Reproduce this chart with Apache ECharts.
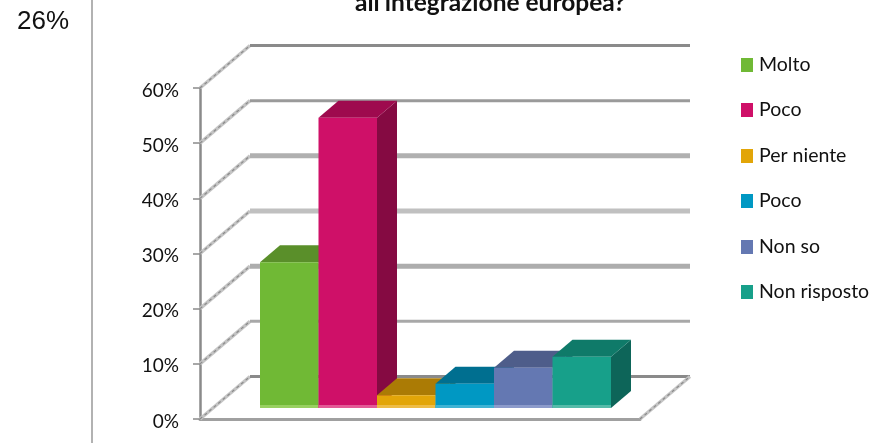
<!DOCTYPE html>
<html><head><meta charset="utf-8">
<style>html,body{margin:0;padding:0;background:#fff}#c{width:872px;height:447px}</style>
<script src="https://cdn.jsdelivr.net/npm/echarts@6/dist/echarts.min.js"></script>
</head><body><div id="c"></div>
<script>
const categories = ['Molto','Poco','Per niente','Poco','Non so','Non risposto'];
const values = [26.4, 52.6, 2.3, 4.4, 7.3, 9.3];
const yTicks = [0,10,20,30,40,50,60];
const titleText = "all'integrazione europea?";
const sideNote = '26%';

const front = ['#70b935','#cf1068','#e2a508','#0098c3','#6478b2','#17a08a'];
const topFace = ['#5a8f2a','#9e0a4e','#ab7b05','#006f90','#4e5d8a','#0f7a69'];
const sideFace = ['#4c7a24','#850a42','#8f6704','#005d79','#414e74','#0d6559'];
const strip = ['#98d060','#e35a96','#eebc46','#3fb3d4','#8c9bcb','#55bba9'];
const wallColor = ['#8a8a8a','#a8a8a8','#adadad','#c0c0c0','#b0b0b0','#9a9a9a','#8a8a8a'];
const wallWidth = [3,3,5,5,5,3,3];
const FONT = 'Lato';
const DX = 20, DY = 17, WX = 50, WY = 42.5, WALL_RIGHT = 690;

const chart = echarts.init(document.getElementById('c'), null, {renderer:'canvas'});

function diagonal(a, b){
  return [
    {type:'polyline',shape:{points:[a,b]},style:{stroke:'#c4c4c4',lineWidth:3.5,fill:null}},
    {type:'polyline',shape:{points:[a,b]},style:{stroke:'#8a8a8a',lineWidth:1.2,lineDash:[3,3],fill:null}}
  ];
}

function wallItem(params, api){
  const v = api.value(0);
  const i = params.dataIndex;
  const p = api.coord([0, v]);
  const back = [p[0]+WX, p[1]-WY];
  const children = diagonal(p, back).concat([
    {type:'line',shape:{x1:back[0],y1:back[1],x2:WALL_RIGHT,y2:back[1]},
     style:{stroke:wallColor[i],lineWidth:wallWidth[i]}}
  ]);
  if (v === 0) {
    const r = api.coord([1, 0]);
    diagonal(r, [r[0]+WX, r[1]-WY]).forEach(c=>children.push(c));
  }
  return {type:'group',children};
}

function barItem(i){
  return function(params, api){
    const top = api.coord([i, api.value(1)]);
    const base = api.coord([i, 0]);
    const w = api.size([1,0])[0];
    const x0 = top[0]-w/2, x1 = top[0]+w/2, yt = top[1], yb = base[1];
    return {type:'group',children:[
      {type:'polygon',shape:{points:[[x1,yt],[x1+DX,yt-DY],[x1+DX,yb-DY],[x1,yb]]},style:{fill:sideFace[i]}},
      {type:'polygon',shape:{points:[[x0,yt],[x0+DX,yt-DY],[x1+DX,yt-DY],[x1,yt]]},style:{fill:topFace[i]}},
      {type:'rect',shape:{x:x0,y:yt,width:w,height:yb-yt},style:{fill:front[i]}},
      {type:'rect',shape:{x:x0,y:yb-3,width:w,height:3},style:{fill:strip[i]}}
    ]};
  };
}

const legendTops = [55,100,146,191,237,282];

chart.setOption({
  animation:false,
  backgroundColor:'#fff',
  title:{text:titleText,left:355,top:-9,padding:0,textStyle:{fontFamily:FONT,fontWeight:'bold',fontSize:24.5,color:'#111'}},
  legend:categories.map((n,i)=>({
    show:true,orient:'vertical',left:741,top:legendTops[i],padding:0,
    itemWidth:12,itemHeight:14,itemGap:0,selectedMode:false,icon:'rect',
    textStyle:{fontFamily:FONT,fontSize:19.5,color:'#111',padding:[1,0,0,1]},
    data:[{name:n,icon:'rect',itemStyle:{color:front[i]}}]
  })),
  grid:[
    {left:200,top:88,width:440,height:331},
    {left:260,top:77,width:351,height:331}
  ],
  xAxis:[
    {gridIndex:0,type:'value',min:0,max:1,axisLabel:{show:false},axisTick:{show:false},splitLine:{show:false},
     axisLine:{show:true,lineStyle:{color:'#a0a0a0',width:3}}},
    {gridIndex:1,type:'category',data:categories,show:false}
  ],
  yAxis:[
    {gridIndex:0,type:'value',min:0,max:60,interval:10,splitLine:{show:false},
     axisLine:{show:true,lineStyle:{color:'#8a8a8a',width:2.5}},
     axisTick:{show:true,length:7,lineStyle:{color:'#8a8a8a',width:1.5}},
     axisLabel:{fontFamily:FONT,fontSize:19,color:'#111',margin:21,verticalAlign:'top',lineHeight:5,formatter:'{value}%'}},
    {gridIndex:1,type:'value',min:0,max:60,show:false}
  ],
  series:[
    {type:'custom',name:'wall',xAxisIndex:0,yAxisIndex:0,silent:true,z:1,data:yTicks.map(v=>[v]),
     encode:{y:0},renderItem:wallItem,clip:false},
    ...categories.map((n,i)=>({
      type:'custom',name:n,xAxisIndex:1,yAxisIndex:1,z:2+i,
      data:[[i,values[i]]],encode:{x:0,y:1},renderItem:barItem(i),clip:false,
      itemStyle:{color:front[i]}
    }))
  ],
  graphic:[
    {type:'line',shape:{x1:92,y1:0,x2:92,y2:443},style:{stroke:'#999',lineWidth:1.5}},
    {type:'text',left:17,top:9,style:{text:sideNote,font:'26px "Liberation Sans"',fill:'#111'}}
  ]
});
</script></body></html>
